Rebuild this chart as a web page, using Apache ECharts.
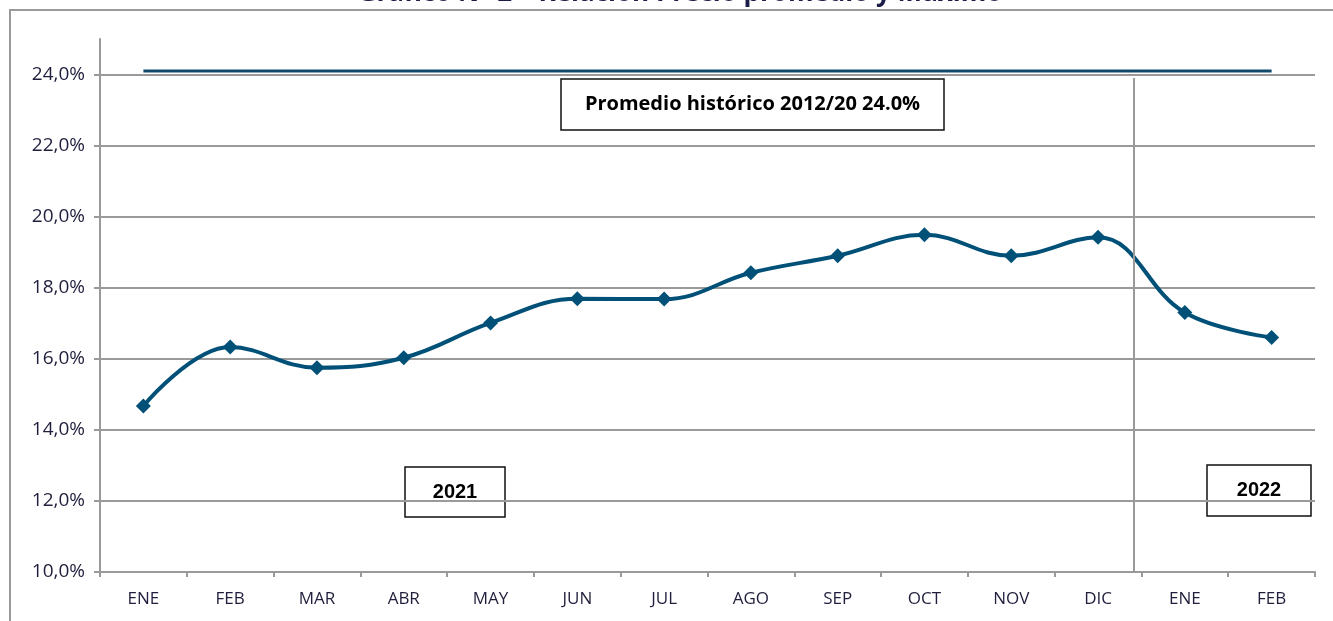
<!DOCTYPE html>
<html>
<head>
<meta charset="utf-8">
<script src="https://cdn.jsdelivr.net/npm/echarts@6/dist/echarts.min.js"></script>
<style>
  html, body { margin: 0; padding: 0; background: #fff; }
  #chart { width: 1333px; height: 621px; }
</style>
</head>
<body>
<div id="chart"></div>
<script>
// months Jan 2021 .. Feb 2022
const months = ['ENE', 'FEB', 'MAR', 'ABR', 'MAY', 'JUN', 'JUL', 'AGO', 'SEP', 'OCT', 'NOV', 'DIC', 'ENE', 'FEB']
// precio promedio / precio maximo, %
const ratio = [14.67, 16.33, 15.75, 16.03, 17.01, 17.69, 17.68, 18.42, 18.9, 19.49, 18.9, 19.42, 17.3, 16.6]
// historic average line, as drawn
const historic = [24.1, 24.1, 24.1, 24.1, 24.1, 24.1, 24.1, 24.1, 24.1, 24.1, 24.1, 24.1, 24.1, 24.1]
const yTicks = { min: 10, max: 25, step: 2 }
const yearBreak = 11.41 // separator between 2021 and 2022, in category units

const navy = '#005078'
const grey = '#9a9a9a'
const labelFont = '"Open Sans", "DejaVu Sans", sans-serif'

const chart = echarts.init(document.getElementById('chart'))

function box (x, y, w, h, text, font, size) {
  return {
    type: 'group',
    x: x,
    y: y,
    children: [{
      type: 'rect',
      shape: { x: 0, y: 0, width: w, height: h },
      style: { fill: '#fff', stroke: '#111', lineWidth: 1.5 }
    }, {
      type: 'text',
      x: w / 2,
      y: h / 2,
      style: {
        text: text,
        fontFamily: font,
        fontSize: size,
        fontWeight: 'bold',
        fill: '#000',
        align: 'center',
        verticalAlign: 'middle'
      }
    }]
  }
}

const option = {
  animation: false,
  backgroundColor: '#fff',
  grid: { left: 100, right: 18, top: 39, bottom: 49 },
  xAxis: [{
    type: 'category',
    data: months,
    boundaryGap: true,
    axisLine: { lineStyle: { color: grey, width: 2 } },
    axisTick: { show: true, length: 5, lineStyle: { color: grey, width: 2 } },
    axisLabel: { color: '#1f1f3d', fontFamily: labelFont, fontSize: 17, margin: 19 },
    splitLine: { show: false }
  }, {
    type: 'value',
    min: -0.5,
    max: months.length - 0.5,
    show: false
  }],
  yAxis: {
    type: 'value',
    min: yTicks.min,
    max: yTicks.max,
    interval: yTicks.step,
    axisLine: { show: true, onZero: false, lineStyle: { color: grey, width: 2 } },
    axisTick: { show: true, length: 6, lineStyle: { color: grey, width: 2 } },
    axisLabel: {
      color: '#1f1f3d',
      fontFamily: labelFont,
      fontSize: 19,
      margin: 15,
      showMaxLabel: false,
      formatter: v => v.toFixed(1).replace('.', ',') + '%'
    },
    splitLine: { show: true, showMaxLine: false, lineStyle: { color: grey, width: 2 } }
  },
  series: [{
    name: 'Promedio histórico',
    type: 'line',
    data: historic,
    symbol: 'none',
    lineStyle: { color: '#124a6c', width: 3 },
    z: 3
  }, {
    name: 'Relación precio promedio / máximo',
    type: 'line',
    data: ratio,
    smooth: 0.4,
    symbol: 'diamond',
    symbolSize: 15,
    itemStyle: { color: navy },
    lineStyle: { color: navy, width: 4 },
    z: 4
  }, {
    name: 'separador',
    type: 'line',
    xAxisIndex: 1,
    data: [],
    markLine: {
      silent: true,
      symbol: 'none',
      label: { show: false },
      lineStyle: { color: grey, width: 2, type: 'solid' },
      data: [[{ coord: [yearBreak, yTicks.min] }, { coord: [yearBreak, 23.9] }]]
    },
    z: 2
  }],
  graphic: [{
    type: 'rect',
    shape: { x: 10, y: 10, width: 1340, height: 640 },
    style: { fill: 'none', stroke: grey, lineWidth: 2 },
    silent: true,
    z: -1
  }, {
    type: 'text',
    x: 680,
    y: 7,
    style: {
      text: 'Gráfico N° 2 – Relación Precio promedio y Máximo',
      fontFamily: labelFont,
      fontSize: 26,
      fontWeight: 'bold',
      fill: '#1c1c48',
      align: 'center',
      verticalAlign: 'bottom'
    }
  },
  box(561, 79, 383, 51, 'Promedio histórico 2012/20 24.0%', labelFont, 20),
  box(405, 467, 100, 50, '2021', '"Liberation Sans", Arial, sans-serif', 20),
  box(1207, 465, 104, 51, '2022', '"Liberation Sans", Arial, sans-serif', 20)
  ]
}

chart.setOption(option)
</script>
</body>
</html>
